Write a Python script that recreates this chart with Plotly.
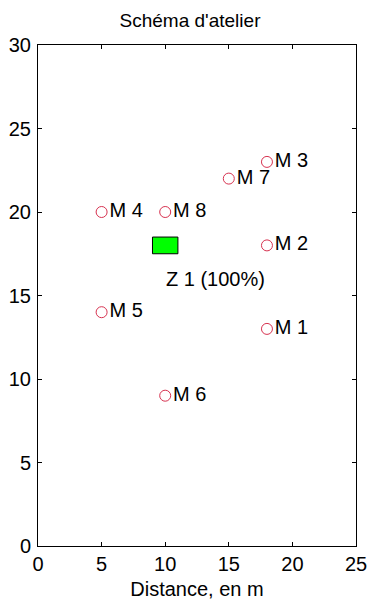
import plotly.graph_objects as go

# Data
machine_names = ["M 1", "M 2", "M 3", "M 4", "M 5", "M 6", "M 7", "M 8"]
machine_x = [18, 18, 18, 5, 5, 10, 15, 10]
machine_y = [13, 18, 23, 20, 14, 9, 22, 20]

zone_names = ["Z 1 (100%)"]
zone_x = [10]
zone_y = [18]
zone_w = [2]
zone_h = [1]

x_ticks = [0, 5, 10, 15, 20, 25]
y_ticks = [0, 5, 10, 15, 20, 25, 30]

font = "Liberation Sans, Arial, Helvetica, sans-serif"
FS = 20

fig = go.Figure()

fig.add_trace(go.Scatter(
    x=machine_x, y=machine_y, mode="markers+text",
    text=machine_names, textposition="middle right",
    textfont=dict(family=font, size=FS, color="black"),
    marker=dict(symbol="circle-open", size=11, color="rgb(215,50,80)", line=dict(width=1)),
    showlegend=False, hoverinfo="skip", cliponaxis=False,
))

for name, cx, cy, w, h in zip(zone_names, zone_x, zone_y, zone_w, zone_h):
    fig.add_shape(type="rect", x0=cx - w / 2, x1=cx + w / 2, y0=cy - h / 2, y1=cy + h / 2,
                  fillcolor="#00ff00", line=dict(color="black", width=1), layer="above")
    fig.add_annotation(x=cx, y=cy - 2 * h, text=name, showarrow=False,
                       xanchor="left", yanchor="middle", xshift=-1,
                       font=dict(family=font, size=FS, color="black"))

axis_common = dict(
    showgrid=False, zeroline=False, showline=True, linecolor="black", linewidth=1,
    mirror="ticks", ticks="inside", ticklen=4, tickcolor="black",
    tickfont=dict(family=font, size=FS, color="black"),
)

W, H = 370, 603
fig.update_layout(
    width=W, height=H,
    margin=dict(l=38, r=14, t=45, b=57, autoexpand=False),
    paper_bgcolor="white", plot_bgcolor="white",
    title=dict(text="Schéma d'atelier", x=190 / W, xanchor="center", xref="container",
               y=1 - 20 / H, yanchor="middle", yref="container",
               font=dict(family=font, size=19, color="black")),
    xaxis=dict(range=[0, 25], tickvals=x_ticks, ticklabelstandoff=0,
               title=dict(text="Distance, en m", font=dict(family=font, size=FS, color="black"), standoff=7),
               **axis_common),
    yaxis=dict(range=[0, 30], tickvals=y_ticks, ticklabelstandoff=2, **axis_common),
)

fig.write_html(
    "out.html",
    config={"displayModeBar": False},
    post_script="document.body.style.margin='0';document.documentElement.style.overflow='hidden';",
)
